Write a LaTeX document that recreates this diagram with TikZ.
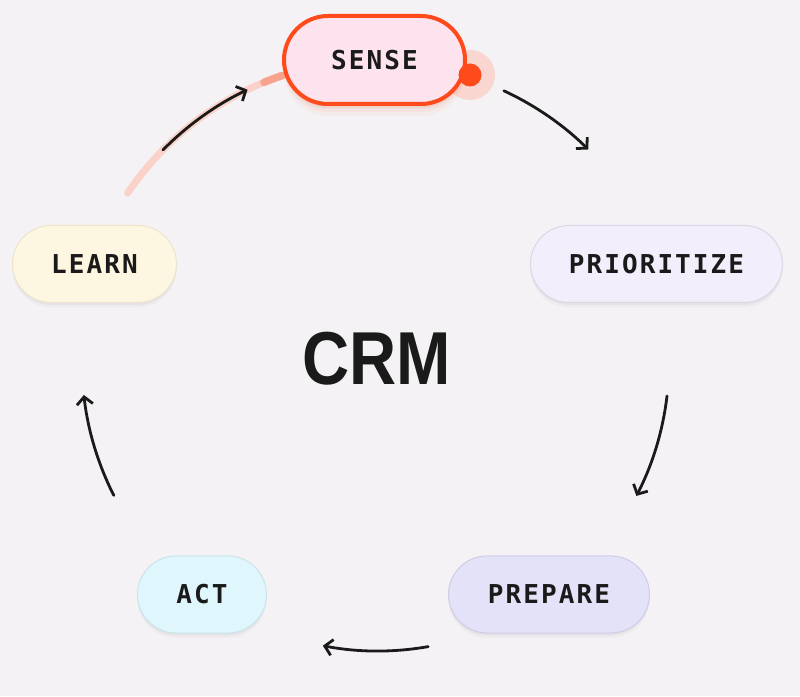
\documentclass[tikz,border=0pt]{standalone}
\usepackage{fontspec}
\setmainfont{Liberation Sans}
\newfontfamily\labelfont[LetterSpace=8.0]{DejaVu Sans Mono}
\usetikzlibrary{arrows.meta}
\definecolor{bg}{HTML}{F4F2F4}
\definecolor{ink}{HTML}{1A1A1A}
\definecolor{senseRed}{HTML}{FF4A1C}
\definecolor{sensePink}{HTML}{FCE3EE}
\definecolor{haloPink}{HTML}{F9D6CF}
\definecolor{trailPale}{HTML}{FAD2CA}
\definecolor{trailSalmon}{HTML}{F8A38D}
\definecolor{prioFill}{HTML}{F3EEFB}
\definecolor{prioLine}{HTML}{DCD6E6}
\definecolor{learnFill}{HTML}{FDF6E1}
\definecolor{learnLine}{HTML}{ECE4CC}
\definecolor{actFill}{HTML}{E0F6FD}
\definecolor{actLine}{HTML}{CBE3EA}
\definecolor{prepFill}{HTML}{E4E2F8}
\definecolor{prepLine}{HTML}{D0CCE6}
\tikzset{
  stage/.style={rectangle, minimum height=77pt, rounded corners=38.5pt,
    inner sep=0pt, line width=1pt, text=ink,
    font=\labelfont\bfseries\fontsize{26pt}{30pt}\selectfont,
    preaction={fill=black, opacity=0.025, transform canvas={yshift=-5pt}},
    preaction={fill=black, opacity=0.035, transform canvas={yshift=-2.5pt}}},
  senseglow/.style={
    preaction={fill=senseRed, opacity=0.04, transform canvas={yshift=-12pt}},
    preaction={fill=senseRed, opacity=0.05, transform canvas={yshift=-8pt}},
    preaction={fill=senseRed, opacity=0.06, transform canvas={yshift=-4pt}}},
  flow/.style={draw=ink, line width=2.8pt, line cap=round, line join=round,
    -{Straight Barb[length=7.5pt,width=16pt,line width=2.8pt]}},
}
\begin{document}
\begin{tikzpicture}[x=1pt,y=1pt]
\fill[bg] (0,0) rectangle (800,696);
\useasboundingbox (0,0) rectangle (800,696);
\coordinate (C) at (378,334);

% trail of the highlighted connector
\coordinate (t0) at ([shift={(146:302)}]C);
\coordinate (t1) at ([shift={(112.2:302)}]C);
\draw[trailPale, line width=7pt, line cap=round] (t0) arc[start angle=146, end angle=108, radius=302];
\draw[trailSalmon, line width=7.5pt, line cap=round] (t1) arc[start angle=112.2, end angle=108.5, radius=302];

% halo of the marker
\coordinate (dot) at (470,621);
\fill[haloPink] (dot) circle[radius=25];

% nodes
\node[stage, senseglow, minimum width=181pt, minimum height=88pt, rounded corners=44pt,
  line width=4pt, draw=senseRed, fill=sensePink]
  (sense) at (374.5,636) {SENSE};
\node[stage, minimum width=252pt, draw=prioLine, fill=prioFill] (prio) at (656.5,432) {PRIORITIZE};
\node[stage, minimum width=164pt, draw=learnLine, fill=learnFill] (learn) at (94.5,432) {LEARN};
\node[stage, minimum width=129pt, draw=actLine, fill=actFill] (act) at (202,101.5) {ACT};
\node[stage, minimum width=201pt, draw=prepLine, fill=prepFill] (prep) at (549,101.5) {PREPARE};

\fill[senseRed] (dot) circle[radius=11.5];

\node[anchor=base, text=ink, font=\bfseries\fontsize{75pt}{75pt}\selectfont] (crm) at (377,311) {\scalebox{0.87}[1]{CRM}};

% connectors
\coordinate (a1) at ([shift={(65.1:299)}]C);
\coordinate (a2) at ([shift={(-6.7:291)}]C);
\coordinate (a3) at ([shift={(-80:289)}]C);
\coordinate (a4) at ([shift={(206.8:296)}]C);
\coordinate (a5) at ([shift={(135.4:302)}]C);
\draw[flow] (a1) arc[start angle=65.1, end angle=45.3, radius=299];
\draw[flow] (a2) arc[start angle=-6.7, end angle=-27.4, radius=291];
\draw[flow] (a3) arc[start angle=-80, end angle=-101, radius=289];
\draw[flow] (a4) arc[start angle=206.8, end angle=186.4, radius=296];
\draw[flow] (a5) arc[start angle=135.4, end angle=115.6, radius=302];
\end{tikzpicture}
\end{document}
